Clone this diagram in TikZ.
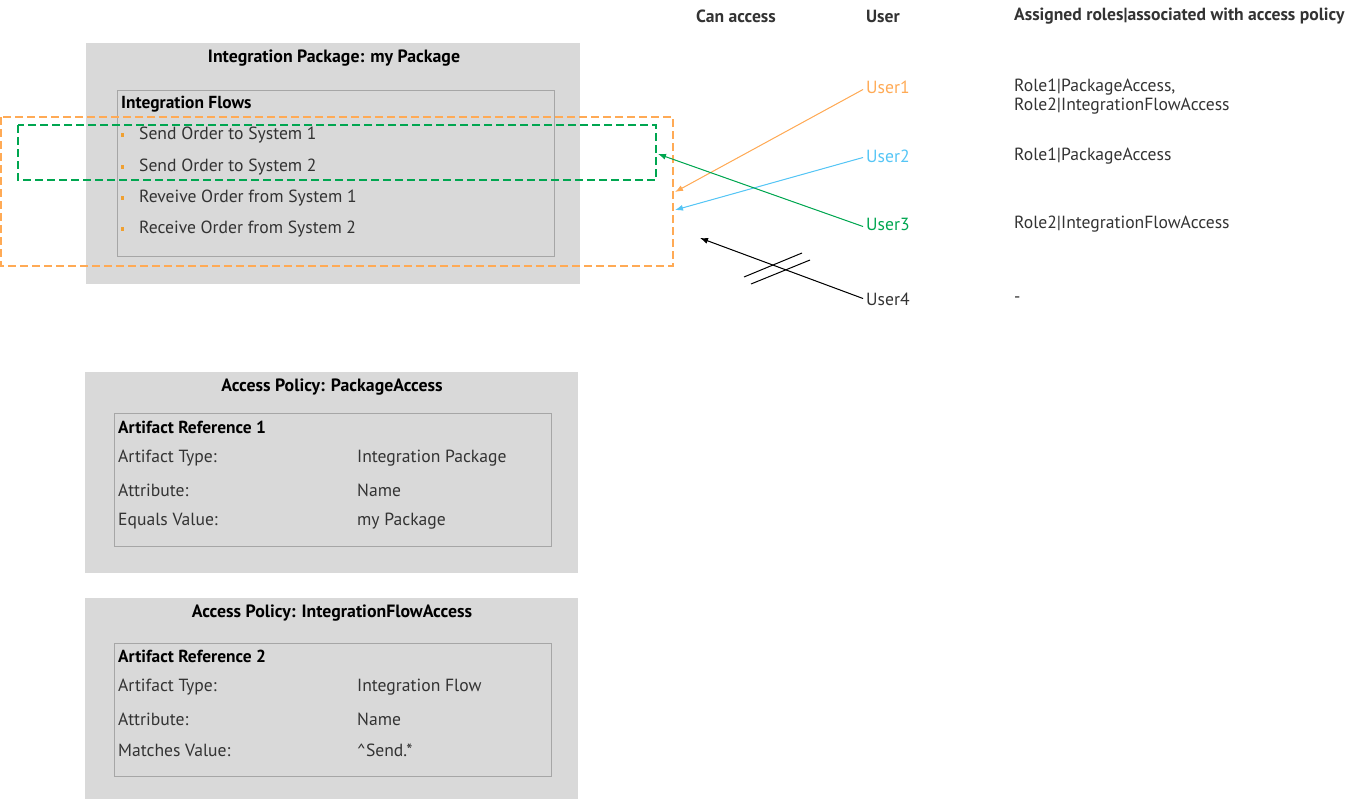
\documentclass[tikz,border=0pt]{standalone}
\usepackage{fontspec}
\setmainfont{PT Sans}
\usetikzlibrary{arrows.meta}
\definecolor{boxgray}{HTML}{D9D9D9}
\definecolor{linegray}{HTML}{A6A6A6}
\definecolor{uorange}{HTML}{FFAA55}
\definecolor{ugreen}{HTML}{00A650}
\definecolor{ublue}{HTML}{55C5F5}
\definecolor{utext}{HTML}{333333}
\definecolor{bullet}{HTML}{F0A030}
\tikzset{
  panel/.style={fill=boxgray,draw=none},
  inner/.style={draw=linegray,line width=1pt},
  title/.style={font=\fontsize{17.8}{20}\selectfont\bfseries,text=black,inner sep=0pt},
  txt/.style={font=\fontsize{17.6}{20}\selectfont,text=utext,anchor=west,inner sep=0pt},
  btxt/.style={font=\fontsize{17.4}{20}\selectfont\bfseries,text=black,anchor=west,inner sep=0pt},
  hdr/.style={font=\fontsize{17.6}{20}\selectfont\bfseries,text=utext,anchor=west,inner sep=0pt},
  dashbox/.style={dash pattern=on 8pt off 4pt,line width=2pt},
  conn/.style={line width=1pt,-{Latex[length=8pt,width=6pt]}},
  bul/.style={rectangle,fill=bullet,inner sep=0pt,minimum size=3.2pt},
}
\begin{document}
\begin{tikzpicture}[x=1pt,y=-1pt]
\useasboundingbox (0,0) rectangle (1351,800);
% Package
\fill[panel] (86,43) rectangle (580,284);
\node[title] (pkgtitle) at (334,58.5) {Integration Package: my Package};
\draw[inner] (117,90.5) rectangle (554,256);
\node[btxt] (flows) at (121,104.5) {Integration Flows};
\foreach \y/\t [count=\i] in {134/Send Order to System 1,166/Send Order to System 2,197/Reveive Order from System 1,228/Receive Order from System 2}{
  \node[bul] (b\i) at (122.5,\y+1) {};
  \node[txt] (f\i) at (139,\y+1.5) {\t};
}
% dashed frames
\draw[dashbox,draw=uorange] (1,117) rectangle (673,266);
\draw[dashbox,draw=ugreen] (18,125) rectangle (656,180);
\coordinate (o1) at (675,192);
\coordinate (o2) at (675,210);
\coordinate (g1) at (658,154);
\coordinate (n1) at (700,238);
% headers
\node[hdr] (h1) at (696,16.5) {Can access};
\node[hdr] (h2) at (866,16.5) {User};
\node[hdr] (h3) at (1014,16.5) {Assigned roles|associated with access policy};
% users
\node[txt,text=uorange] (u1) at (866,87.5) {User1};
\node[txt,text=ublue] (u2) at (866,156.5) {User2};
\node[txt,text=ugreen] (u3) at (866,224.5) {User3};
\node[txt] (u4) at (866,299.5) {User4};
\node[txt] (r1a) at (1014,87.5) {Role1|PackageAccess,};
\node[txt] (r1b) at (1014,106.5) {Role2|IntegrationFlowAccess};
\node[txt] (r2) at (1014,156.5) {Role1|PackageAccess};
\node[txt] (r3) at (1014,224.5) {Role2|IntegrationFlowAccess};
\node[txt] (r4) at (1014,299.5) {-};
% connectors
\draw[conn,draw=uorange,fill=uorange] ([xshift=-3pt,yshift=-2pt]u1.west) -- (o1);
\draw[conn,draw=ublue,fill=ublue] ([xshift=-3pt,yshift=-1pt]u2.west) -- (o2);
\draw[conn,draw=ugreen,fill=ugreen] ([xshift=-3pt,yshift=-2pt]u3.west) -- (g1);
\draw[conn,draw=black,fill=black] ([xshift=-3pt,yshift=1pt]u4.west) -- (n1);
\coordinate (x1a) at (744,277); \coordinate (x1b) at (802,253);
\coordinate (x2a) at (751,284); \coordinate (x2b) at (810,260);
\draw[line width=1pt] (x1a) -- (x1b);
\draw[line width=1pt] (x2a) -- (x2b);
% Access policy 1
\fill[panel] (85,372) rectangle (578,573);
\node[title] (ap1) at (332,387.5) {Access Policy: PackageAccess};
\draw[inner] (114,413) rectangle (551,546);
\node[btxt] (ar1) at (118,427.5) {Artifact Reference 1};
\node[txt] (a1l1) at (118,458.5) {Artifact Type:};
\node[txt] (a1v1) at (357,458.5) {Integration Package};
\node[txt] (a1l2) at (118,490.5) {Attribute:};
\node[txt] (a1v2) at (357,490.5) {Name};
\node[txt] (a1l3) at (118,521.5) {Equals Value:};
\node[txt] (a1v3) at (357,521.5) {my Package};
% Access policy 2
\fill[panel] (85,598) rectangle (578,799);
\node[title] (ap2) at (332,613.5) {Access Policy: IntegrationFlowAccess};
\draw[inner] (114,643) rectangle (551,776);
\node[btxt] (ar2) at (118,656.5) {Artifact Reference 2};
\node[txt] (a2l1) at (118,687.5) {Artifact Type:};
\node[txt] (a2v1) at (357,687.5) {Integration Flow};
\node[txt] (a2l2) at (118,719.5) {Attribute:};
\node[txt] (a2v2) at (357,719.5) {Name};
\node[txt] (a2l3) at (118,750.5) {Matches Value:};
\node[txt] (a2v3) at (357,750.5) {\textasciicircum Send.*};
\end{tikzpicture}
\end{document}
